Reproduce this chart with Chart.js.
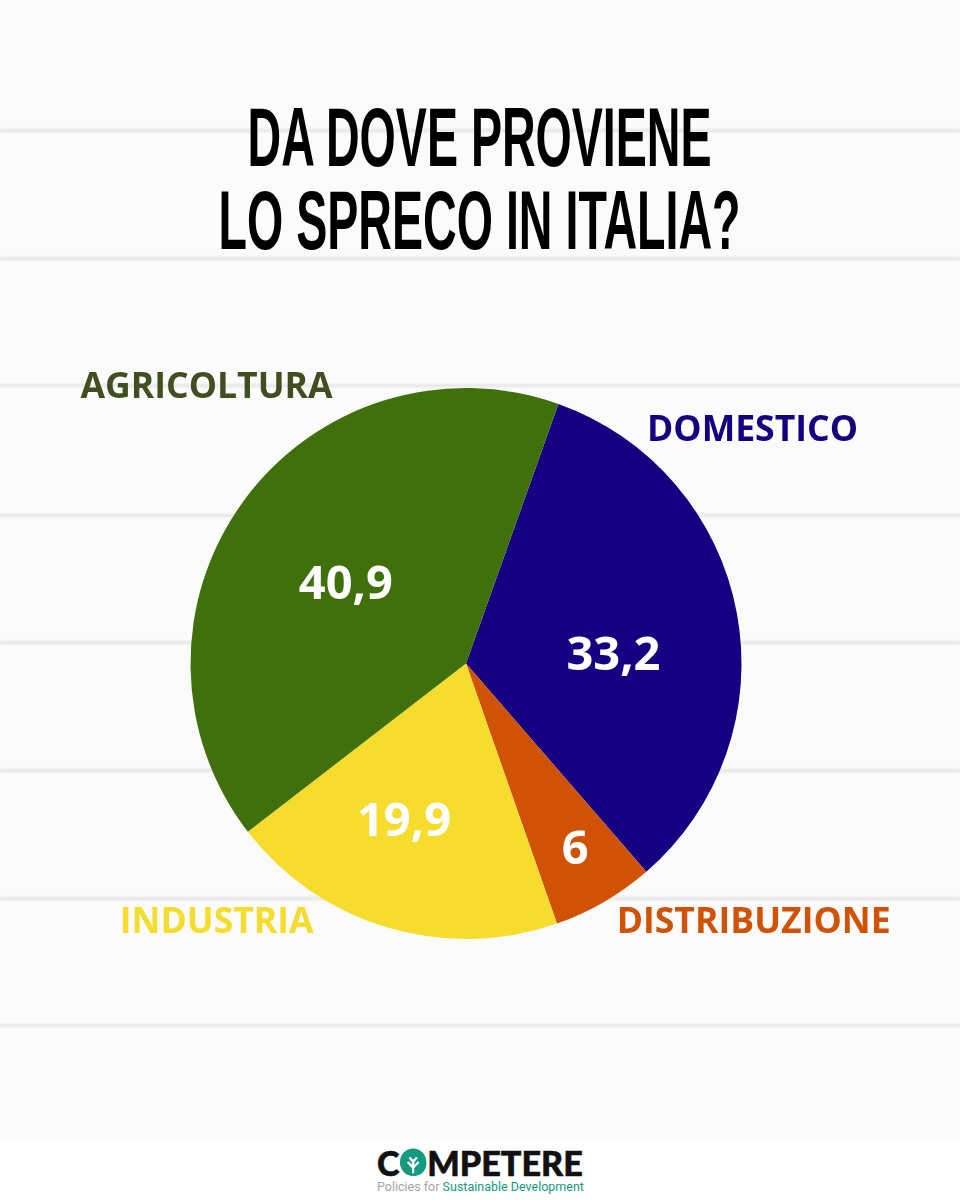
<!DOCTYPE html>
<html><head><meta charset="utf-8">
<script src="https://cdn.jsdelivr.net/npm/chart.js@4"></script>
<style>
html,body{margin:0;padding:0;background:#fbfbfb;width:960px;height:1200px;overflow:hidden}
#wrap{position:absolute;left:0;top:0;width:960px;height:1200px}
canvas{position:absolute;left:0;top:0}
.tl{position:absolute;left:0;width:960px;text-align:center;white-space:nowrap;font:700 84px/84px "Liberation Sans";color:#000}
.tl span{display:inline-block;transform-origin:center}
.line{position:absolute;left:0;width:960px;height:3px;background:#e5e5e5;filter:blur(.8px)}
#foot{position:absolute;left:0;top:1139px;width:960px;height:61px;background:#fff}
#logo{position:absolute;left:377px;top:1141px;font:900 35px/42px Lato;color:#111;white-space:nowrap;transform-origin:left center;-webkit-text-stroke:.6px #111}
#logo i{font-style:normal;color:#159a80;-webkit-text-stroke:0;display:inline-block;position:relative}
#logo svg{position:absolute;left:50%;top:50%;width:28px;height:28px;transform:translate(-50%,-50%)}
#sub{position:absolute;left:377px;top:1179px;font:400 12.5px/16px Roboto;color:#a5a5a5;white-space:nowrap}
#sub b{font-weight:400;color:#159a80}
</style></head><body><div id="wrap">
<div id="lines"></div>
<canvas id="c" width="960" height="1200" style="width:960px;height:1200px"></canvas>
<div class="tl" style="top:95px"><span data-w="464">DA DOVE PROVIENE</span></div>
<div class="tl" style="top:178px"><span data-w="522">LO SPRECO IN ITALIA?</span></div>
<div id="foot"></div>
<div id="logo">C<i>O<svg viewBox="0 0 30 30"><circle cx="15" cy="15" r="14.5" fill="#159a80"/><path d="M15 27V12M15 21L9 15M15 21L21 15M15 15L11 10M15 15L19 10" stroke="#fff" stroke-width="2.4" fill="none"/></svg></i>MPETERE</div>
<div id="sub">Policies for <b>Sustainable Development</b></div>
</div>
<script>
const categories=["DOMESTICO","DISTRIBUZIONE","INDUSTRIA","AGRICOLTURA"];
const values=[33.2,6,19.9,40.9];
const valueLabels=["33,2","6","19,9","40,9"];
const colors=["#140080","#d05305","#f6dc2c","#40700c"];
const labelColors=["#140080","#d05305","#f6dc2c","#3f4f1f"];
const ruleRows=[130,258,385,515,642,770,898,1025];
const valueOffsets=[[.535,-.026],[.396,.679],[-.225,.578],[-.436,-.284]];
const nameOffsets=[[1.04,-.844],[1.044,.942],[-.905,.942],[-.942,-1.0]];
const lines=document.getElementById('lines');
ruleRows.forEach(y=>{const d=document.createElement('div');d.className='line';d.style.top=(y-1)+'px';lines.appendChild(d);});
const outer={
 id:'outerLabels',
 afterDatasetsDraw(chart){
  const ctx=chart.ctx,arcs=chart.getDatasetMeta(0).data;
  ctx.save();ctx.textAlign='center';ctx.textBaseline='middle';
  arcs.forEach((a,i)=>{
    const r=a.outerRadius;
    ctx.fillStyle='#fff';ctx.font='700 47px "Open Sans"';
    ctx.fillText(valueLabels[i],a.x+valueOffsets[i][0]*r,a.y+valueOffsets[i][1]*r);
    ctx.fillStyle=labelColors[i];ctx.font='700 35.6px "Open Sans"';
    ctx.fillText(categories[i],a.x+nameOffsets[i][0]*r,a.y+nameOffsets[i][1]*r);
  });
  ctx.restore();
 }
};
new Chart(document.getElementById('c'),{
 type:'pie',
 plugins:[outer],
 data:{labels:categories,datasets:[{data:values,backgroundColor:colors,borderWidth:0}]},
 options:{responsive:false,animation:false,rotation:19.6,
  layout:{padding:{left:190,right:218,top:388,bottom:261}},
  plugins:{legend:{display:false},tooltip:{enabled:false}}}
});
document.querySelectorAll('.tl span').forEach(s=>{s.style.transform='scaleX('+(+s.dataset.w/s.offsetWidth)+')';});
const logo=document.getElementById('logo');
logo.style.transform='scaleX('+(206/logo.offsetWidth)+')';
</script></body></html>
